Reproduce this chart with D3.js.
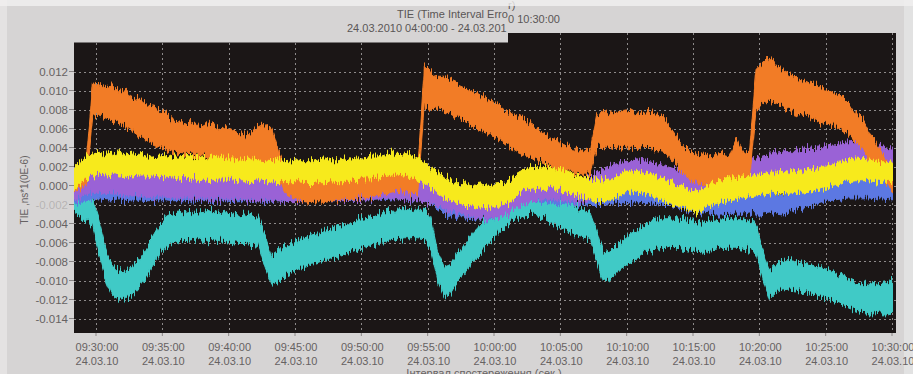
<!DOCTYPE html>
<html>
<head>
<meta charset="utf-8">
<script src="https://cdn.jsdelivr.net/npm/d3@7"></script>
<style>
  html, body { margin: 0; padding: 0; background: #d6d4d4; }
  svg { display: block; }
  text { font-family: "Liberation Sans", Arial, sans-serif; }
</style>
</head>
<body>
<svg id="chart" width="913" height="374"></svg>
<script>
// ---- data -------------------------------------------------------------
// Samples every 30 s starting at 09:28:15; values are TIE in units of 1e-3
// (upper and lower edge of each noisy trace).
const sampleStart = new Date(2010, 2, 24, 9, 28, 15);
const sampleStepSec = 30;

const xTickLabels = ["09:30:00", "09:35:00", "09:40:00", "09:45:00", "09:50:00", "09:55:00",
  "10:00:00", "10:05:00", "10:10:00", "10:15:00", "10:20:00", "10:25:00", "10:30:00"];
const xTickDate = "24.03.10";
const yTickLabels = ["0.012", "0.010", "0.008", "0.006", "0.004", "0.002", "0.000",
  "-0.002", "-0.004", "-0.006", "-0.008", "-0.010", "-0.012", "-0.014"];

// heading pieces: the right-hand strip of the heading sits higher
const headingLeft1 = "TIE (Time Interval Erro";
const headingRight1 = "r)";
const headingLeft2 = "24.03.2010 04:00:00 - 24.03.201";
const headingRight2 = "0 10:30:00";
const yAxisTitle = "TIE ,ns*1(0E-6)";
const xAxisTitle = "Інтервал спостереження (сек.)";

const orangeHi = [1.6, 1.9, 2.0, 11.0,
  10.9, 10.4, 10.6, 9.9, 10.1, 9.0, 9.2, 8.6, 8.5, 7.6, 7.6, 6.8, 6.7, 6.5, 6.8, 6.1, 6.5, 6.4, 6.0, 6.2,
  5.9, 5.5, 5.3, 5.6, 6.2, 6.5, 5.9, 3.6, 2.0, 1.5, 1.1, 0.9, 0.8, 1.0, 0.7, 0.9, 1.1, 1.0, 1.0, 1.2,
  1.3, 1.2, 1.6, 1.8, 1.9, 2.1, 1.8, 1.9, 1.7, 12.6, 12.0, 11.5, 11.5, 11.1, 10.8, 10.5, 10.0, 9.7, 9.3, 8.9,
  8.6, 8.0, 7.6, 7.3, 6.9, 6.4, 6.0, 5.5, 5.0, 4.8, 4.2, 3.9, 3.8, 3.6, 3.6, 7.6, 7.9, 7.5, 7.6, 7.8,
  7.9, 7.5, 7.7, 7.8, 7.6, 7.2, 6.2, 5.2, 4.2, 3.6, 3.3, 3.2, 3.0, 3.3, 3.4, 3.2, 5.0, 3.5, 3.6, 12.2,
  13.0, 13.6, 12.7, 12.2, 11.8, 11.4, 11.2, 10.8, 10.6, 10.2, 10.1, 9.7, 9.4, 8.7, 7.6, 7.0, 5.6, 4.8, 3.5, 2.4,
  1.5];
const orangeLo = [-0.4, -0.3, 0.0, 7.3,
  7.4, 7.1, 6.9, 6.6, 6.1, 5.7, 5.2, 5.0, 4.6, 4.3, 3.9, 3.6, 3.4, 3.3, 3.2, 3.1, 3.1, 2.9, 2.9, 2.7,
  2.7, 2.6, 2.4, 2.2, 2.3, 2.4, 2.0, 0.5, -0.8, -1.2, -1.5, -1.7, -1.8, -1.7, -1.8, -1.6, -1.5, -1.4, -1.5, -1.3,
  -1.3, -1.2, -1.0, -0.9, -0.7, -0.6, -0.7, -0.8, -0.9, 8.4, 8.2, 8.0, 7.8, 7.6, 7.2, 6.8, 6.3, 6.0, 5.7, 5.4,
  5.0, 4.6, 4.1, 3.7, 3.4, 3.0, 2.7, 2.4, 2.1, 1.8, 1.7, 1.6, 1.4, 1.3, 1.3, 4.0, 4.1, 4.0, 3.8, 4.0,
  4.1, 3.9, 4.0, 4.0, 3.8, 3.6, 3.0, 2.1, 1.3, 0.8, 0.3, 0.2, 0.0, 0.0, 0.2, 0.3, 0.4, 0.5, 0.6, 7.8,
  8.7, 8.9, 8.6, 8.3, 8.0, 7.7, 7.4, 7.2, 6.9, 6.6, 6.4, 6.2, 5.8, 5.4, 4.5, 4.0, 2.9, 2.2, 0.7, -0.4,
  -1.0];

const yellowHi = [1.8, 2.5, 3.0, 3.3,
  3.5, 3.3, 3.4, 3.4, 3.2, 3.3, 3.4, 3.1, 3.1, 3.2, 3.3, 3.0, 3.0, 3.1, 2.9, 3.0, 2.8, 3.0, 3.1, 2.8,
  2.8, 2.7, 2.6, 2.8, 2.7, 2.6, 2.5, 2.7, 2.5, 2.6, 2.7, 2.5, 2.5, 2.7, 2.8, 2.6, 2.6, 2.8, 2.8, 2.9,
  2.9, 3.1, 3.1, 3.3, 3.5, 3.5, 3.4, 3.2, 2.9, 2.4, 1.9, 1.5, 0.9, 0.6, 0.3, 0.3, 0.1, 0.0, 0.1, 0.0,
  0.2, 0.2, 0.6, 1.2, 1.6, 1.9, 1.9, 2.0, 1.9, 1.8, 1.7, 1.4, 1.2, 1.0, 0.7, 0.5, 0.6, 0.7, 1.0, 1.4,
  1.4, 1.6, 1.4, 1.2, 0.9, 0.7, 0.3, 0.2, -0.1, -0.3, -0.7, -0.3, 0.1, 0.4, 0.5, 0.7, 0.7, 0.9, 1.0, 1.2,
  1.2, 1.4, 1.4, 1.5, 1.4, 1.6, 1.5, 1.7, 1.7, 2.0, 2.1, 2.4, 2.5, 2.7, 2.8, 2.7, 2.8, 2.6, 2.5, 2.5,
  2.4];
const yellowLo = [-0.3, 0.2, 0.7, 1.1,
  1.2, 1.1, 1.2, 1.0, 1.1, 0.9, 1.0, 1.0, 0.9, 0.8, 1.0, 0.9, 0.8, 0.7, 0.8, 0.6, 0.7, 0.6, 0.7, 0.7,
  0.6, 0.5, 0.5, 0.4, 0.5, 0.4, 0.4, 0.3, 0.3, 0.4, 0.4, 0.3, 0.3, 0.4, 0.4, 0.5, 0.4, 0.4, 0.6, 0.5,
  0.7, 0.7, 0.9, 1.0, 1.2, 1.2, 1.1, 0.9, 0.5, 0.2, -0.3, -0.8, -1.3, -1.6, -1.9, -2.1, -2.1, -2.3, -2.2, -2.3,
  -2.1, -2.0, -1.7, -1.1, -0.6, -0.4, -0.3, -0.4, -0.3, -0.4, -0.6, -0.8, -1.0, -1.3, -1.5, -1.7, -1.7, -1.5, -1.2, -0.9,
  -0.8, -0.7, -0.8, -1.0, -1.3, -1.6, -1.9, -2.2, -2.3, -2.6, -3.0, -2.6, -2.1, -1.9, -1.7, -1.6, -1.5, -1.3, -1.2, -1.1,
  -1.0, -0.9, -0.8, -0.8, -0.8, -0.7, -0.7, -0.6, -0.5, -0.3, -0.1, 0.1, 0.3, 0.4, 0.5, 0.5, 0.5, 0.4, 0.3, 0.2,
  0.2];

const purpleHi = [1.0, 1.4, 1.7, 1.9,
  2.0, 1.8, 1.7, 1.6, 1.6, 1.4, 1.6, 1.4, 1.3, 1.5, 1.4, 1.2, 1.2, 1.3, 1.3, 1.1, 1.2, 1.1, 1.2, 1.0,
  1.1, 1.2, 1.1, 1.0, 1.0, 1.1, 1.0, 1.0, 0.9, 0.9, 0.9, 1.0, 0.9, 0.8, 0.9, 1.0, 1.0, 1.0, 1.1, 1.0,
  1.1, 1.2, 1.2, 1.2, 1.3, 1.2, 1.1, 1.1, 1.0, 0.9, 0.7, 0.4, 0.1, -0.2, -0.5, -0.6, -0.7, -0.8, -0.8, -0.8,
  -0.7, -0.5, -0.1, 0.3, 0.7, 0.9, 1.0, 1.1, 1.1, 1.1, 1.0, 0.9, 0.9, 0.9, 1.0, 1.3, 1.7, 2.0, 2.3, 2.5,
  2.6, 2.7, 2.6, 2.5, 2.3, 2.1, 1.9, 1.7, 1.5, 1.4, 1.3, 1.4, 1.5, 1.7, 1.9, 2.1, 2.3, 2.5, 2.7, 2.9,
  3.1, 3.3, 3.4, 3.5, 3.6, 3.6, 3.7, 3.8, 3.9, 4.0, 4.2, 4.3, 4.4, 4.5, 4.5, 4.6, 4.5, 4.4, 4.3, 4.1,
  4.0];
const purpleLo = [-1.6, -1.3, -0.9, -0.7,
  -0.7, -0.8, -0.9, -1.0, -1.1, -1.1, -1.0, -1.2, -1.3, -1.2, -1.2, -1.3, -1.4, -1.3, -1.3, -1.4, -1.4, -1.5, -1.4, -1.5,
  -1.5, -1.4, -1.5, -1.6, -1.6, -1.5, -1.6, -1.6, -1.6, -1.7, -1.7, -1.7, -1.7, -1.6, -1.7, -1.6, -1.6, -1.6, -1.5, -1.6,
  -1.5, -1.4, -1.4, -1.4, -1.3, -1.4, -1.5, -1.5, -1.6, -1.7, -1.9, -2.2, -2.5, -2.8, -3.1, -3.2, -3.3, -3.4, -3.4, -3.4,
  -3.3, -3.1, -2.7, -2.3, -1.9, -1.7, -1.6, -1.5, -1.5, -1.5, -1.6, -1.7, -1.7, -1.7, -1.6, -1.3, -0.9, -0.6, -0.3, -0.1,
  0.0, 0.1, 0.0, -0.1, -0.3, -0.5, -0.7, -0.9, -1.1, -1.2, -1.3, -1.2, -1.1, -0.9, -0.7, -0.5, -0.3, -0.1, 0.1, 0.3,
  0.5, 0.7, 0.8, 0.9, 1.0, 1.0, 1.1, 1.2, 1.3, 1.4, 1.6, 1.7, 1.8, 1.9, 1.9, 2.0, 1.9, 1.8, 1.7, 1.5,
  1.4];

const blueHi = [0.0, 0.3, 0.5, 0.6,
  0.6, 0.5, 0.5, 0.6, 0.4, 0.5, 0.5, 0.4, 0.4, 0.5, 0.5, 0.4, 0.4, 0.4, 0.5, 0.4, 0.4, 0.3, 0.4, 0.4,
  0.3, 0.4, 0.4, 0.3, 0.4, 0.3, 0.3, 0.4, 0.3, 0.4, 0.4, 0.3, 0.4, 0.4, 0.3, 0.4, 0.4, 0.5, 0.4, 0.5,
  0.5, 0.5, 0.6, 0.5, 0.6, 0.6, 0.5, 0.4, 0.4, 0.3, 0.0, -0.5, -1.0, -1.2, -1.4, -1.5, -1.5, -1.5, -1.6, -1.5,
  -1.3, -0.8, -0.2, 0.2, 0.4, 0.4, 0.3, 0.2, 0.2, 0.1, 0.1, 0.0, 0.0, 0.1, 0.0, 0.0, 0.0, 0.1, 0.2, 0.2,
  0.2, 0.3, 0.2, 0.2, 0.1, 0.0, 0.0, -0.3, -0.6, -0.8, -0.9, -1.0, -0.9, -1.0, -1.0, -0.9, -1.0, -1.0, -0.9, -1.0,
  -1.0, -0.9, -0.9, -1.0, -0.8, -0.6, -0.4, -0.2, 0.0, 0.2, 0.4, 0.5, 0.6, 0.7, 0.7, 0.7, 0.7, 0.6, 0.6, 0.5,
  0.5];
const blueLo = [-2.0, -1.8, -1.6, -1.5,
  -1.4, -1.5, -1.5, -1.4, -1.6, -1.5, -1.5, -1.6, -1.6, -1.5, -1.5, -1.6, -1.6, -1.6, -1.5, -1.6, -1.6, -1.7, -1.6, -1.6,
  -1.7, -1.6, -1.6, -1.7, -1.6, -1.7, -1.7, -1.6, -1.7, -1.6, -1.6, -1.7, -1.6, -1.6, -1.7, -1.6, -1.6, -1.5, -1.6, -1.5,
  -1.5, -1.5, -1.4, -1.5, -1.4, -1.4, -1.5, -1.6, -1.6, -1.7, -2.0, -2.5, -3.0, -3.3, -3.5, -3.5, -3.6, -3.5, -3.5, -3.5,
  -3.3, -2.8, -2.2, -1.8, -1.6, -1.6, -1.7, -1.8, -1.8, -1.9, -1.9, -2.0, -2.0, -1.9, -2.0, -2.0, -2.0, -1.9, -1.8, -1.8,
  -1.8, -1.7, -1.8, -1.8, -1.9, -2.0, -2.0, -2.3, -2.6, -2.8, -2.9, -3.0, -2.9, -3.0, -3.0, -2.9, -3.0, -3.0, -2.9, -3.0,
  -3.0, -2.9, -2.9, -3.0, -2.8, -2.6, -2.4, -2.2, -2.0, -1.8, -1.6, -1.5, -1.4, -1.3, -1.3, -1.3, -1.3, -1.4, -1.4, -1.5,
  -1.5];

const cyanHi = [-0.4, -0.7, -1.0, -1.6,
  -3.8, -6.9, -8.4, -9.0, -8.9, -8.5, -7.8, -6.8, -5.4, -4.2, -3.4, -3.0, -2.9, -2.7, -2.6, -2.9, -2.8, -2.6, -2.9, -2.7,
  -3.0, -3.1, -3.0, -3.2, -3.2, -5.3, -7.5, -7.0, -6.3, -6.1, -5.7, -5.5, -5.2, -5.1, -4.7, -4.6, -4.3, -4.2, -3.9, -3.6,
  -3.4, -3.3, -3.0, -2.8, -2.6, -2.6, -2.4, -2.5, -2.5, -2.5, -3.6, -6.9, -8.6, -8.3, -7.0, -6.3, -5.2, -4.5, -3.7, -2.9,
  -2.1, -1.5, -0.9, -0.6, -0.2, -0.2, -0.4, -0.7, -1.0, -1.4, -1.7, -1.9, -2.3, -2.5, -2.8, -4.8, -7.2, -7.0, -6.3, -5.7,
  -5.1, -4.7, -4.2, -3.8, -3.6, -3.4, -3.4, -3.5, -3.6, -3.7, -3.8, -4.0, -3.8, -3.6, -3.5, -3.4, -3.6, -3.6, -3.8, -4.0,
  -6.8, -9.0, -8.3, -8.0, -7.9, -8.0, -8.2, -8.3, -8.5, -8.7, -8.9, -9.2, -9.5, -9.8, -10.1, -10.3, -10.5, -10.4, -10.3, -10.2,
  -10.0];
const cyanLo = [-2.8, -3.3, -3.8, -4.3,
  -7.2, -10.0, -11.6, -12.0, -11.8, -11.5, -10.8, -9.8, -8.5, -7.3, -6.4, -6.1, -5.8, -5.8, -5.7, -5.6, -5.9, -5.7, -5.8, -5.9,
  -6.0, -6.1, -6.1, -6.2, -6.3, -8.6, -10.4, -10.1, -9.4, -9.1, -8.8, -8.5, -8.3, -8.1, -7.8, -7.6, -7.4, -7.2, -7.0, -6.7,
  -6.5, -6.3, -6.1, -5.9, -5.7, -5.6, -5.5, -5.5, -5.5, -5.6, -6.7, -10.0, -11.8, -11.3, -10.1, -9.3, -8.3, -7.5, -6.7, -5.9,
  -5.1, -4.5, -3.8, -3.4, -3.1, -3.0, -3.2, -3.5, -3.9, -4.2, -4.6, -4.9, -5.2, -5.4, -5.7, -7.9, -10.1, -9.9, -9.3, -8.6,
  -8.1, -7.7, -7.2, -6.9, -6.6, -6.5, -6.6, -6.5, -6.6, -6.7, -6.9, -7.0, -6.8, -6.7, -6.5, -6.6, -6.6, -6.7, -6.8, -7.1,
  -9.8, -12.0, -11.3, -11.0, -10.9, -11.0, -11.2, -11.4, -11.5, -11.7, -11.9, -12.2, -12.5, -12.8, -13.1, -13.3, -13.5, -13.5, -13.4, -13.4,
  -13.2];

// drawing order: first entry at the back
const seriesList = [
  { name: "cyan",   hi: cyanHi,   lo: cyanLo,   color: "#3fcac6" },
  { name: "blue",   hi: blueHi,   lo: blueLo,   color: "#5b78e2" },
  { name: "purple", hi: purpleHi, lo: purpleLo, color: "#9a62d6" },
  { name: "orange", hi: orangeHi, lo: orangeLo, color: "#f27b26" },
  { name: "yellow", hi: yellowHi, lo: yellowLo, color: "#f7ea1e" }
];

// ---- layout -----------------------------------------------------------
const W = 913, H = 374;
const plot = { left: 74, right: 896, top: 33, bottom: 333 };
const dataRight = 893;
const headingSplitX = 508;
const headingLift = 9;
const bg = "#d6d4d4";
const textColor = "#666262";
const headingColor = "#5a5656";

const parseHMS = d3.timeParse("%H:%M:%S");
const dayOf = t => new Date(2010, 2, 24, t.getHours(), t.getMinutes(), t.getSeconds());
const tickTimes = xTickLabels.map(s => dayOf(parseHMS(s)));

const x = d3.scaleTime()
  .domain([tickTimes[0], tickTimes[tickTimes.length - 1]])
  .range([96, 892]);
const yTickValues = yTickLabels.map(Number);
const y = d3.scaleLinear().domain([0, 0.012]).range([185.5, 71.5]);

const sampleTime = i => new Date(sampleStart.getTime() + i * sampleStepSec * 1000);

const svg = d3.select("#chart");

// background + light frame strips
svg.append("rect").attr("width", W).attr("height", H).attr("fill", bg);
svg.append("rect").attr("x", 0).attr("y", 0).attr("width", 7).attr("height", H).attr("fill", "#e4e2e2");
svg.append("rect").attr("x", 904).attr("y", 0).attr("width", 9).attr("height", H).attr("fill", "#e2e2e2");

const defs = svg.append("defs");
defs.append("clipPath").attr("id", "plotClip")
  .append("rect")
  .attr("x", plot.left).attr("y", plot.top)
  .attr("width", plot.right - plot.left).attr("height", plot.bottom - plot.top);
defs.append("clipPath").attr("id", "dataClip")
  .append("rect")
  .attr("x", plot.left).attr("y", plot.top)
  .attr("width", dataRight - plot.left).attr("height", plot.bottom - plot.top);

// measurement jitter look: columns of each trace are nudged up/down
const jitter = defs.append("filter").attr("id", "jitter")
  .attr("filterUnits", "userSpaceOnUse")
  .attr("x", plot.left).attr("y", plot.top)
  .attr("width", plot.right - plot.left).attr("height", plot.bottom - plot.top);
jitter.append("feTurbulence")
  .attr("type", "fractalNoise").attr("baseFrequency", "0.7 0.03")
  .attr("numOctaves", 2).attr("seed", 7).attr("result", "noise");
jitter.append("feColorMatrix").attr("in", "noise").attr("type", "matrix")
  .attr("values", "0 0 0 0 0.5  0 1 0 0 0  0 0 1 0 0  0 0 0 0 1")
  .attr("result", "map");
jitter.append("feDisplacementMap")
  .attr("in", "SourceGraphic").attr("in2", "map")
  .attr("scale", 16).attr("xChannelSelector", "R").attr("yChannelSelector", "G");

// plot background
svg.append("rect")
  .attr("x", plot.left).attr("y", plot.top)
  .attr("width", plot.right - plot.left).attr("height", plot.bottom - plot.top)
  .attr("fill", "#1b1616");

// grid
const grid = svg.append("g").attr("clip-path", "url(#plotClip)")
  .attr("stroke", "#8d8a8a").attr("stroke-width", 1).attr("stroke-dasharray", "2,3");
grid.selectAll("line.v").data(tickTimes).join("line")
  .attr("x1", d => Math.round(x(d)) + 0.5).attr("x2", d => Math.round(x(d)) + 0.5)
  .attr("y1", plot.top).attr("y2", plot.bottom);
grid.selectAll("line.h").data(yTickValues).join("line")
  .attr("x1", plot.left).attr("x2", plot.right)
  .attr("y1", d => Math.round(y(d)) + 0.5).attr("y2", d => Math.round(y(d)) + 0.5);

// traces
const area = d3.area()
  .x((d, i) => x(sampleTime(i)))
  .y0(d => y(d[0] / 1000))
  .y1(d => y(d[1] / 1000));
const traces = svg.append("g").attr("clip-path", "url(#dataClip)")
  .append("g").attr("filter", "url(#jitter)");
seriesList.forEach(s => {
  const pts = s.hi.map((h, i) => [s.lo[i], h]);
  traces.append("path")
    .attr("d", area(pts))
    .attr("fill", s.color)
    .attr("stroke", s.color)
    .attr("stroke-width", 1)
    .attr("stroke-linejoin", "round");
});

// x axis: small ticks and two-line labels
const xAxis = svg.append("g").attr("fill", textColor).attr("font-size", 11).attr("text-anchor", "middle");
tickTimes.forEach((t, i) => {
  const px = x(t);
  xAxis.append("line").attr("x1", px).attr("x2", px).attr("y1", plot.bottom).attr("y2", plot.bottom + 3)
    .attr("stroke", "#8a8686");
  xAxis.append("text").attr("x", px + 1).attr("y", 351).text(xTickLabels[i]);
  xAxis.append("text").attr("x", px + 1).attr("y", 365).text(xTickDate);
});

// y axis labels with short ticks
const yAxis = svg.append("g").attr("fill", textColor).attr("font-size", 11.5).attr("text-anchor", "end");
yTickValues.forEach((v, i) => {
  const py = y(v);
  yAxis.append("line").attr("x1", plot.left - 5).attr("x2", plot.left).attr("y1", py).attr("y2", py)
    .attr("stroke", "#8a8686");
  yAxis.append("text").attr("x", plot.left - 6).attr("y", py + 4)
    .attr("fill-opacity", yTickLabels[i] === "-0.002" ? 0.3 : 1)
    .text(yTickLabels[i]);
});

// axis titles
svg.append("text")
  .attr("transform", "translate(28,190) rotate(-90)")
  .attr("text-anchor", "middle").attr("font-size", 10).attr("fill", textColor)
  .text(yAxisTitle);
svg.append("text")
  .attr("x", 484).attr("y", 377)
  .attr("text-anchor", "middle").attr("font-size", 11).attr("fill", textColor)
  .text(xAxisTitle);

// heading panel: covers the top strip of the plot on the left
svg.append("rect").attr("x", plot.left).attr("y", plot.top)
  .attr("width", headingSplitX - plot.left).attr("height", headingLift + 0.5).attr("fill", bg);
const heading = svg.append("g").attr("font-size", 11).attr("fill", headingColor);
heading.append("text").attr("x", 397).attr("y", 18).text(headingLeft1);
heading.append("text").attr("x", 347).attr("y", 32).text(headingLeft2);
heading.append("text").attr("x", headingSplitX).attr("y", 18 - headingLift).text(headingRight1);
heading.append("text").attr("x", headingSplitX).attr("y", 32 - headingLift).text(headingRight2);

// pale band along the top edge
svg.append("rect").attr("x", 0).attr("y", 0).attr("width", W).attr("height", 6)
  .attr("fill", "#f1f0f0").attr("opacity", 0.8);
</script>
</body>
</html>
